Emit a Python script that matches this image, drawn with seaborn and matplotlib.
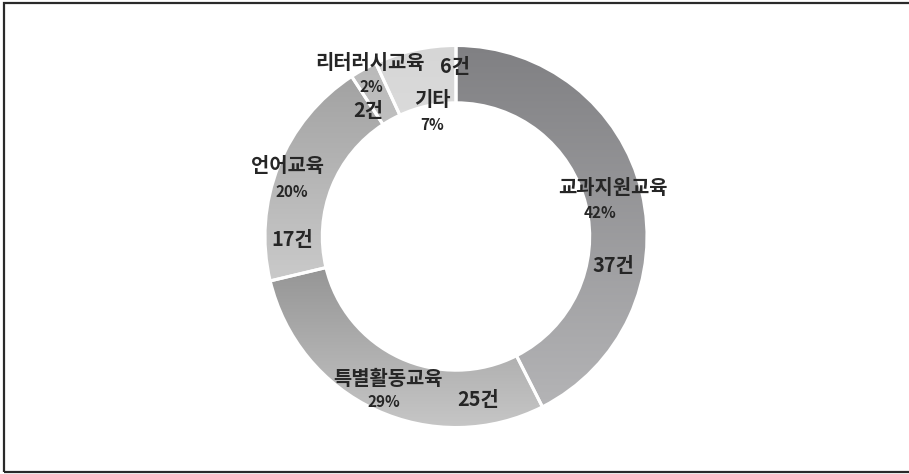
import numpy as np
import matplotlib
matplotlib.use("Agg")
import matplotlib.pyplot as plt
from matplotlib.colors import LinearSegmentedColormap
from matplotlib.patches import Rectangle
import seaborn as sns

# Program categories, counts (건) and shares (%)
categories = ["교과지원교육", "특별활동교육", "언어교육", "리터러시교육", "기타"]
counts = [37, 25, 17, 2, 6]
percents = [42, 29, 20, 2, 7]

# Vertical gradient (top colour, bottom colour) for each ring segment
gradients = [
    ("#808083", "#b4b4b6"),
    ("#8c8c8c", "#c6c6c6"),
    ("#a2a2a2", "#cacaca"),
    ("#bababa", "#c8c8c8"),
    ("#d6d6d6", "#e2e2e2"),
]

# Label anchors (in units of the outer radius) for name, percent and count
name_pos = [(0.822, 0.259), (-0.356, -0.741), (-0.880, 0.374), (-0.450, 0.913), (-0.126, 0.715)]
pct_pos = [(0.754, 0.123), (-0.377, -0.866), (-0.859, 0.233), (-0.445, 0.783), (-0.126, 0.584)]
cnt_pos = [(0.822, -0.154), (0.115, -0.856), (-0.859, -0.018), (-0.461, 0.662), (-0.005, 0.890)]

sns.set_theme(style="white")
plt.rcParams["font.family"] = ["Noto Sans CJK KR", "DejaVu Sans"]

W, H = 909, 474
fig = plt.figure(figsize=(W / 100, H / 100), dpi=100)
fig.patch.set_facecolor("white")

cx, cy, r = 456, 236.5, 191
ax = fig.add_axes([(cx - r) / W, (H - cy - r) / H, 2 * r / W, 2 * r / H])
ax.set_axis_off()

wedges, _ = ax.pie(
    counts,
    startangle=90,
    counterclock=False,
    radius=1.0,
    wedgeprops=dict(width=0.30, edgecolor="white", linewidth=2.2),
)

grad = np.linspace(0, 1, 256).reshape(-1, 1)
for w, (c_top, c_bot) in zip(wedges, gradients):
    verts = w.get_patch_transform().transform(w.get_path().vertices)
    x0, y0 = verts.min(axis=0)
    x1, y1 = verts.max(axis=0)
    cmap = LinearSegmentedColormap.from_list("seg", [c_top, c_bot])
    im = ax.imshow(grad, cmap=cmap, extent=[x0, x1, y0, y1], origin="upper",
                   aspect="auto", interpolation="bilinear", zorder=1)
    im.set_clip_path(w)
    w.set_facecolor("none")
    w.set_zorder(2)

ax.set_aspect("equal")
ax.set_xlim(-1, 1)
ax.set_ylim(-1, 1)

txt = dict(ha="center", va="center", color="#262626", fontweight="bold", zorder=5, clip_on=False)
for name, c, p, npos, ppos, cpos in zip(categories, counts, percents, name_pos, pct_pos, cnt_pos):
    ax.text(*npos, name, fontsize=14.3, **txt)
    ax.text(*ppos, f"{p}%", fontsize=11, **txt)
    ax.text(*cpos, f"{c}건", fontsize=14.3, **txt)

# Outer frame around the chart area
fig.add_artist(Rectangle((4 / W, (H - 472) / H), (W + 10) / W, (472 - 3) / H,
                         transform=fig.transFigure, fill=False,
                         edgecolor="#2a2a2a", linewidth=1.6))

fig.savefig("out.png", dpi=100, facecolor="white")
